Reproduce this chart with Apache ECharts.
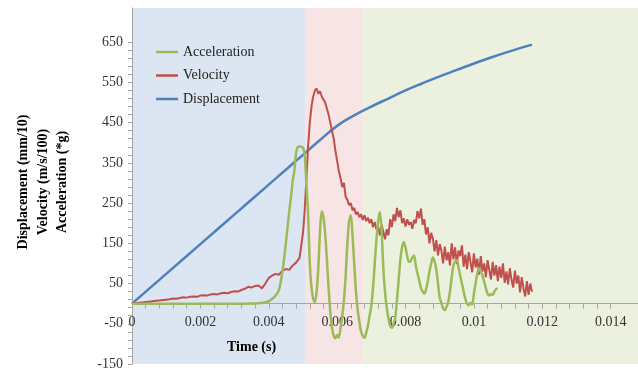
<!DOCTYPE html>
<html>
<head>
<meta charset="utf-8">
<script src="https://cdn.jsdelivr.net/npm/echarts@6/dist/echarts.min.js"></script>
<style>
  html, body { margin: 0; padding: 0; background: #fff; }
  #chart { width: 638px; height: 373px; }
</style>
</head>
<body>
<div id="chart"></div>
<script>
// time (s) / value pairs
const displacement = [
  [0, 0], [0.001, 74], [0.002, 148], [0.003, 222], [0.004, 296], [0.0045, 333],
  [0.005, 370], [0.0055, 407], [0.006, 442], [0.0065, 468], [0.007, 490],
  [0.0075, 510], [0.008, 530], [0.0085, 548], [0.009, 565], [0.0095, 581],
  [0.01, 597], [0.0105, 612], [0.011, 626], [0.0115, 639], [0.0117, 644]
];

const velocity = [
  [0, 0], [0.0001, 1], [0.0002, 2], [0.0003, 3], [0.0004, 4], [0.0005, 5],
  [0.0006, 6], [0.0007, 7], [0.0008, 8], [0.0009, 9], [0.001, 10], [0.0011, 11],
  [0.0012, 13], [0.0013, 12], [0.0014, 14], [0.0015, 16], [0.0016, 15], [0.0017, 17],
  [0.0018, 18], [0.0019, 17], [0.002, 20], [0.0021, 21], [0.0022, 20], [0.0023, 23],
  [0.0024, 24], [0.0025, 23], [0.0026, 26], [0.0027, 27], [0.0028, 26], [0.0029, 29],
  [0.003, 31], [0.0031, 30], [0.0032, 34], [0.0033, 37], [0.0034, 42], [0.0035, 40],
  [0.0036, 44], [0.0037, 45], [0.0038, 38], [0.0039, 50], [0.004, 64], [0.0041, 70],
  [0.0042, 74], [0.0043, 72], [0.0044, 82], [0.0045, 86], [0.0046, 84], [0.0047, 95],
  [0.0048, 102], [0.0049, 114], [0.005, 175], [0.00505, 230], [0.0051, 310],
  [0.00515, 390], [0.0052, 450], [0.00525, 490], [0.0053, 515], [0.00535, 530],
  [0.0054, 535], [0.00545, 522], [0.0055, 528], [0.00555, 515], [0.0056, 518],
  [0.00565, 500], [0.0057, 485], [0.00575, 470], [0.0058, 450], [0.00585, 430],
  [0.0059, 410], [0.00595, 380], [0.006, 355], [0.00605, 330], [0.0061, 312],
  [0.00615, 290], [0.0062, 300], [0.00625, 265], [0.0063, 258], [0.00635, 245],
  [0.0064, 250], [0.00645, 232], [0.0065, 238], [0.00655, 222], [0.0066, 228],
  [0.00665, 215], [0.0067, 222], [0.00675, 208], [0.0068, 220], [0.00685, 205],
  [0.0069, 214], [0.00695, 200], [0.007, 210], [0.00705, 190], [0.0071, 203],
  [0.00715, 185], [0.0072, 192], [0.00725, 170], [0.0073, 196], [0.00735, 178],
  [0.0074, 160], [0.00745, 185], [0.0075, 170], [0.00755, 210], [0.0076, 190],
  [0.00765, 222], [0.0077, 205], [0.00775, 238], [0.0078, 215], [0.00785, 232],
  [0.0079, 200], [0.00795, 212], [0.008, 192], [0.00805, 210], [0.0081, 196],
  [0.00815, 203], [0.0082, 186], [0.00825, 208], [0.0083, 200], [0.00835, 230],
  [0.0084, 212], [0.00845, 236], [0.0085, 196], [0.00855, 210], [0.0086, 172],
  [0.00865, 190], [0.0087, 150], [0.00875, 176], [0.0088, 162], [0.00885, 130],
  [0.0089, 158], [0.00895, 120], [0.009, 148], [0.00905, 132], [0.0091, 100],
  [0.00915, 142], [0.0092, 108], [0.00925, 128], [0.0093, 95], [0.00935, 150],
  [0.0094, 110], [0.00945, 140], [0.0095, 98], [0.00955, 132], [0.0096, 118],
  [0.00965, 145], [0.0097, 92], [0.00975, 122], [0.0098, 86], [0.00985, 128],
  [0.0099, 104], [0.00995, 78], [0.01, 125], [0.01005, 90], [0.0101, 112],
  [0.01015, 72], [0.0102, 118], [0.01025, 80], [0.0103, 100], [0.01035, 66],
  [0.0104, 108], [0.01045, 84], [0.0105, 60], [0.01055, 104], [0.0106, 70],
  [0.01065, 96], [0.0107, 56], [0.01075, 92], [0.0108, 64], [0.01085, 100],
  [0.0109, 52], [0.01095, 80], [0.011, 48], [0.01105, 88], [0.0111, 60],
  [0.01115, 40], [0.0112, 82], [0.01125, 50], [0.0113, 70], [0.01135, 28],
  [0.0114, 66], [0.01145, 38], [0.0115, 18], [0.01155, 56], [0.0116, 22],
  [0.01165, 50], [0.0117, 30]
];

const acceleration = [
  [0, 0], [0.001, 0], [0.002, 0], [0.003, 0], [0.0037, 1], [0.004, 6], [0.0042, 20],
  [0.0043, 35], [0.0044, 80], [0.0045, 150], [0.0046, 230], [0.00467, 280],
  [0.0047, 305], [0.00475, 330], [0.0048, 375], [0.00485, 390], [0.0049, 391],
  [0.00495, 390], [0.005, 388], [0.00505, 370], [0.0051, 300], [0.00515, 224],
  [0.0052, 100], [0.00525, 40], [0.0053, 12], [0.00535, 4], [0.0054, 30],
  [0.00545, 90], [0.0055, 180], [0.00555, 230], [0.0056, 215], [0.00565, 175],
  [0.0057, 110], [0.00575, 40], [0.0058, -20], [0.00585, -60], [0.0059, -80],
  [0.00595, -86], [0.006, -78], [0.00605, -84], [0.0061, -60], [0.00615, -30],
  [0.0062, 10], [0.00625, 70], [0.0063, 150], [0.00635, 205], [0.0064, 220],
  [0.00645, 170], [0.0065, 100], [0.00655, 30], [0.0066, -15], [0.00665, -45],
  [0.0067, -70], [0.00675, -80], [0.0068, -85], [0.00685, -72], [0.0069, -55],
  [0.00695, -30], [0.007, -5], [0.00705, 40], [0.0071, 100], [0.00715, 160],
  [0.0072, 205], [0.00725, 227], [0.0073, 180], [0.00735, 90], [0.0074, 30],
  [0.00745, -10], [0.0075, -35], [0.00755, -55], [0.0076, -60], [0.00765, -50],
  [0.0077, -35], [0.00775, 10], [0.0078, 60], [0.00785, 110], [0.0079, 140],
  [0.00795, 153], [0.008, 140], [0.00805, 118], [0.0081, 104], [0.00815, 105],
  [0.0082, 115], [0.00825, 120], [0.0083, 95], [0.00835, 75], [0.0084, 58],
  [0.00845, 40], [0.0085, 30], [0.00855, 25], [0.0086, 35], [0.00865, 55],
  [0.0087, 80], [0.00875, 100], [0.0088, 115], [0.00885, 105], [0.0089, 85],
  [0.00895, 50], [0.009, 15], [0.00905, 2], [0.0091, -12], [0.00915, -16],
  [0.0092, -8], [0.00925, 5], [0.0093, 30], [0.00935, 65], [0.0094, 95],
  [0.00945, 105], [0.0095, 108], [0.00955, 90], [0.0096, 70], [0.00965, 50],
  [0.0097, 30], [0.00975, 12], [0.0098, 0], [0.00985, -4], [0.0099, 2],
  [0.00995, -2], [0.01, 25], [0.01005, 50], [0.0101, 75], [0.01015, 88],
  [0.0102, 80], [0.01025, 70], [0.0103, 55], [0.01035, 38], [0.0104, 25],
  [0.01045, 20], [0.0105, 24], [0.01055, 22], [0.0106, 30], [0.01065, 36],
  [0.0107, 38]
];

// shaded phases along the time axis
const phases = [
  { from: 0, to: 0.00506, color: "#DCE6F2" },
  { from: 0.00506, to: 0.00676, color: "#F7E4E4" },
  { from: 0.00676, to: 0.0148, color: "#EBF1DE" }
];

const xTickLabels = [0, 0.002, 0.004, 0.006, 0.008, 0.01, 0.012, 0.014];
const yTickLabels = [-150, -50, 50, 150, 250, 350, 450, 550, 650];

// minor tick marks: every 0.0004 s and every 20 units
const xTicks = [];
for (let i = 0; i <= 35; i++) xTicks.push(+(i * 0.0004).toFixed(4));
const yTicks = [];
for (let v = -150; v <= 650; v += 20) yTicks.push(v);

const serif = "Liberation Serif";
const axisGray = "#A6A6A6";
const gridBottom = 9;

const chart = echarts.init(document.getElementById("chart"));

const option = {
  backgroundColor: "#fff",
  animation: false,
  grid: { left: 132, right: 0, top: 8, bottom: gridBottom, outerBoundsMode: "none", containLabel: false },
  title: {
    text: "Time (s)",
    left: 227,
    top: 340,
    padding: 0,
    textStyle: { fontFamily: serif, fontSize: 14, fontWeight: "bold", color: "#000" }
  },
  legend: {
    data: ["Acceleration", "Velocity", "Displacement"],
    orient: "vertical",
    left: 156,
    top: 45,
    padding: 0,
    icon: "rect",
    itemWidth: 22,
    itemHeight: 2.5,
    itemGap: 9.5,
    textStyle: { fontFamily: serif, fontSize: 14, color: "#222", lineHeight: 14 }
  },
  graphic: [
    {
      type: "text",
      x: 43,
      y: 182,
      rotation: Math.PI / 2,
      style: {
        text: "Displacement (mm/10)\nVelocity (m/s/100)\nAcceleration (*g)",
        font: 'bold 14px "Liberation Serif"',
        lineHeight: 19.5,
        align: "center",
        verticalAlign: "middle",
        fill: "#000"
      }
    }
  ],
  xAxis: {
    type: "value",
    min: 0,
    max: 0.0148,
    z: 1.5,
    offset: 0,
    axisLine: { onZero: false, lineStyle: { color: axisGray, width: 1 } },
    axisTick: { show: true, length: 5, customValues: xTicks, lineStyle: { color: axisGray } },
    axisLabel: {
      customValues: xTickLabels,
      margin: 12,
      fontFamily: serif,
      fontSize: 14,
      color: "#333"
    },
    splitLine: { show: false }
  },
  yAxis: {
    type: "value",
    min: -150,
    max: 735,
    z: 1.5,
    axisLine: { show: true, onZero: false, lineStyle: { color: axisGray, width: 1 } },
    axisTick: { show: true, length: 4, customValues: yTicks, lineStyle: { color: axisGray } },
    axisLabel: {
      customValues: yTickLabels,
      margin: 9,
      fontFamily: serif,
      fontSize: 14,
      color: "#333"
    },
    splitLine: { show: false }
  },
  series: [
    {
      // background bands only
      name: "phases",
      type: "line",
      data: [],
      z: 1,
      silent: true,
      markArea: {
        silent: true,
        data: phases.map(p => [
          { xAxis: p.from, itemStyle: { color: p.color } },
          { xAxis: p.to }
        ])
      }
    },
    {
      name: "Displacement",
      type: "line",
      data: displacement,
      smooth: true,
      symbol: "none",
      lineStyle: { color: "#4F81BD", width: 2.5 },
      itemStyle: { color: "#4F81BD" },
      z: 2
    },
    {
      name: "Velocity",
      type: "line",
      data: velocity,
      symbol: "none",
      lineStyle: { color: "#C0504D", width: 2 },
      itemStyle: { color: "#C0504D" },
      z: 3
    },
    {
      name: "Acceleration",
      type: "line",
      data: acceleration,
      smooth: 0.3,
      symbol: "none",
      lineStyle: { color: "#9BBB59", width: 2.5 },
      itemStyle: { color: "#9BBB59" },
      z: 4
    }
  ]
};

chart.setOption(option);

// move the time axis up to the zero line of the value axis
const zeroY = chart.convertToPixel({ yAxisIndex: 0 }, 0);
const bottomY = chart.getHeight() - gridBottom;
chart.setOption({ xAxis: { offset: zeroY - bottomY } });
</script>
</body>
</html>
